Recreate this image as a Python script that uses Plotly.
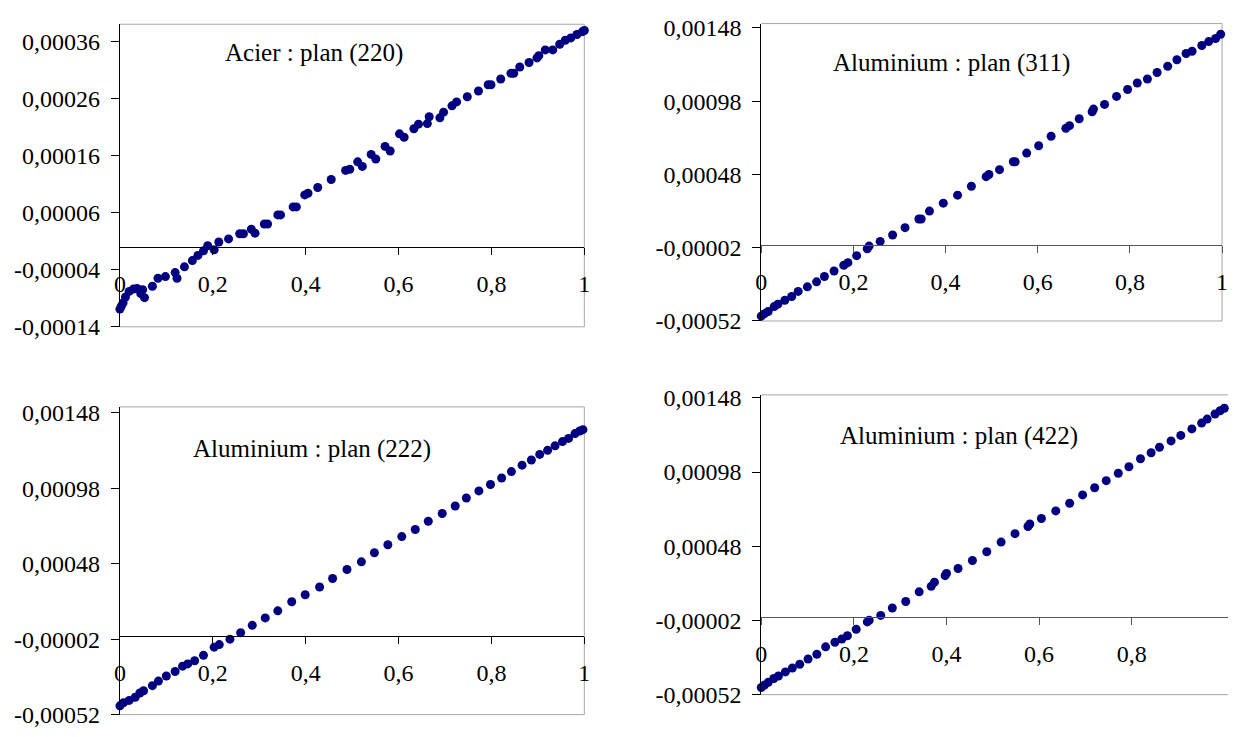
import plotly.graph_objects as go

# ---------------- data ----------------
acier_220_x = [0.0, 0.003, 0.007, 0.012, 0.020, 0.029, 0.037, 0.045, 0.049, 0.053, 0.070, 0.082,
               0.098, 0.119, 0.123, 0.139, 0.156, 0.168, 0.180, 0.189, 0.203, 0.213, 0.234, 0.258,
               0.266, 0.283, 0.291, 0.311, 0.318, 0.340, 0.346, 0.373, 0.380, 0.398, 0.405, 0.426,
               0.455, 0.486, 0.495, 0.512, 0.522, 0.541, 0.551, 0.571, 0.582, 0.602, 0.612, 0.633,
               0.643, 0.662, 0.666, 0.689, 0.697, 0.715, 0.725, 0.748, 0.772, 0.793, 0.799, 0.820,
               0.842, 0.848, 0.861, 0.881, 0.898, 0.902, 0.916, 0.932, 0.947, 0.959, 0.971, 0.984,
               0.996, 1.0]
acier_220_y = [-0.000109, -0.000104, -0.000098, -0.000088, -0.000078, -0.000074, -0.000073, -0.000082,
               -0.000075, -0.000089, -0.000069, -0.000055, -0.000052, -0.000045, -0.000055, -0.000035,
               -0.000024, -0.000015, -0.000007, 0.000002, -0.000005, 0.0000085, 0.000014, 0.000023,
               0.000023, 0.000031, 0.000024, 0.000040, 0.000040, 0.000056, 0.000056, 0.000070, 0.000070,
               0.000091, 0.000094, 0.000104, 0.000118, 0.000134, 0.000136, 0.000149, 0.000141, 0.000162,
               0.000154, 0.000176, 0.000168, 0.000198, 0.000192, 0.000207, 0.000215, 0.000216, 0.000228,
               0.000226, 0.000236, 0.000247, 0.000254, 0.000263, 0.000273, 0.000284, 0.000284, 0.000294,
               0.000304, 0.000304, 0.000315, 0.000323, 0.000331, 0.000335, 0.000345, 0.000345, 0.000355,
               0.000362, 0.000366, 0.000372, 0.000377, 0.000379]

alu_311_x = [0.0, 0.007, 0.015, 0.028, 0.036, 0.051, 0.066, 0.080, 0.100, 0.120, 0.137, 0.158,
             0.179, 0.188, 0.207, 0.230, 0.234, 0.258, 0.285, 0.312, 0.342, 0.347, 0.365, 0.395,
             0.426, 0.456, 0.488, 0.494, 0.517, 0.547, 0.551, 0.576, 0.602, 0.629, 0.661, 0.669,
             0.690, 0.718, 0.721, 0.745, 0.771, 0.795, 0.816, 0.838, 0.859, 0.882, 0.902, 0.922,
             0.935, 0.956, 0.971, 0.986, 0.997]
alu_311_y = [-0.000487, -0.000470, -0.000455, -0.000422, -0.000405, -0.000379, -0.000353, -0.000318,
             -0.000287, -0.000253, -0.000216, -0.000179, -0.000140, -0.000122, -0.000074, -0.000027,
             -0.000009, 0.000023, 0.000067, 0.000117, 0.000176, 0.000176, 0.000230, 0.000284,
             0.000339, 0.000400, 0.000465, 0.000480, 0.000513, 0.000567, 0.000567, 0.000626,
             0.000676, 0.000741, 0.000795, 0.000813, 0.000860, 0.000908, 0.000926, 0.000958,
             0.001013, 0.001060, 0.001104, 0.001132, 0.001176, 0.001219, 0.001263, 0.001306,
             0.001321, 0.001360, 0.001387, 0.001408, 0.001437]

alu_222_x = [0.0, 0.008, 0.020, 0.033, 0.043, 0.051, 0.070, 0.083, 0.100, 0.119, 0.135, 0.146,
             0.161, 0.180, 0.203, 0.214, 0.237, 0.260, 0.285, 0.313, 0.340, 0.370, 0.399, 0.430,
             0.458, 0.489, 0.520, 0.548, 0.577, 0.607, 0.636, 0.664, 0.694, 0.722, 0.746, 0.773,
             0.798, 0.822, 0.843, 0.866, 0.886, 0.904, 0.921, 0.937, 0.953, 0.966, 0.980, 0.990,
             0.997]
alu_222_y = [-0.000462, -0.000441, -0.000426, -0.000405, -0.000377, -0.000362, -0.000328, -0.000298,
             -0.000264, -0.000234, -0.000199, -0.000184, -0.000163, -0.000127, -0.000073, -0.000056,
             -0.000020, 0.000023, 0.000072, 0.000121, 0.000168, 0.000228, 0.000275, 0.000326,
             0.000382, 0.000442, 0.000493, 0.000553, 0.000606, 0.000660, 0.000707, 0.000762,
             0.000813, 0.000863, 0.000916, 0.000963, 0.001006, 0.001049, 0.001091, 0.001134,
             0.001168, 0.001205, 0.001232, 0.001262, 0.001290, 0.001311, 0.001343, 0.001360,
             0.001369]

alu_422_x = [0.0, 0.007, 0.015, 0.027, 0.037, 0.052, 0.067, 0.083, 0.101, 0.120, 0.139, 0.159,
             0.174, 0.186, 0.205, 0.229, 0.233, 0.258, 0.283, 0.312, 0.341, 0.367, 0.374, 0.397,
             0.400, 0.425, 0.456, 0.487, 0.518, 0.548, 0.576, 0.580, 0.605, 0.636, 0.666, 0.694,
             0.720, 0.745, 0.771, 0.794, 0.819, 0.842, 0.860, 0.885, 0.906, 0.930, 0.951, 0.963,
             0.980, 0.991, 1.0]
alu_422_y = [-0.000472, -0.000455, -0.000437, -0.000411, -0.000394, -0.000367, -0.000341, -0.000315,
             -0.000280, -0.000248, -0.000198, -0.000167, -0.000145, -0.000123, -0.000080, -0.000030,
             -0.000019, 0.000014, 0.000064, 0.000108, 0.000173, 0.000210, 0.000238, 0.000282,
             0.000297, 0.000330, 0.000384, 0.000443, 0.000508, 0.000565, 0.000613, 0.000630,
             0.000667, 0.000718, 0.000770, 0.000826, 0.000874, 0.000922, 0.000972, 0.001016,
             0.001070, 0.001110, 0.001147, 0.001190, 0.001227, 0.001271, 0.001310, 0.001337,
             0.001371, 0.001393, 0.001410]

titles = ["Acier : plan (220)", "Aluminium : plan (311)", "Aluminium : plan (222)", "Aluminium : plan (422)"]

x_ticks = [0, 0.2, 0.4, 0.6, 0.8, 1]
x_ticks_422 = [0, 0.2, 0.4, 0.6, 0.8]
y_ticks_220 = [-0.00014, -0.00004, 0.00006, 0.00016, 0.00026, 0.00036]
y_ticks_al = [-0.00052, -0.00002, 0.00048, 0.00098, 0.00148]


def fr(v):
    return f"{v:.5f}".replace(".", ",")


def frx(v):
    return ("%g" % v).replace(".", ",")


# ---------------- layout geometry (pixels) ----------------
W, H = 1234, 737
panels = [
    dict(l=115, r=584, t=14.7, b=327, yr=[-0.00014, 0.00039], xr=[0, 1], yt=y_ticks_220, xt=x_ticks,
         title=(311, 44), xs=acier_220_x, ys=acier_220_y, zc="black"),
    dict(l=762.7, r=1228, t=14, b=321, yr=[-0.00052, 0.00151], xr=[0, 1], yt=y_ticks_al, xt=x_ticks,
         title=(955, 55), xs=alu_311_x, ys=alu_311_y, zc="#555555"),
    dict(l=115, r=584, t=409.7, b=727.3, yr=[-0.00052, 0.00152], xr=[0, 1], yt=y_ticks_al, xt=x_ticks,
         title=(309, 453), xs=alu_222_x, ys=alu_222_y, zc="black"),
    dict(l=762.7, r=1234, t=397.3, b=706.7, yr=[-0.00052, 0.0015], xr=[0, 1.008], yt=y_ticks_al,
         xt=x_ticks_422, title=(962, 440), xs=alu_422_x, ys=alu_422_y, zc="#555555"),
]

FONT = "Liberation Serif, Times New Roman, serif"
FS = 24
FS_TITLE = 25

fig = go.Figure()
layout = dict(width=W, height=H, margin=dict(l=0, r=0, t=0, b=0), paper_bgcolor="white",
              plot_bgcolor="white", showlegend=False, font=dict(family=FONT, size=FS, color="black"))
shapes = []
annotations = []

for i, p in enumerate(panels):
    k = "" if i == 0 else str(i + 1)
    xd = [p["l"] / W, p["r"] / W]
    yd = [1 - p["b"] / H, 1 - p["t"] / H]
    y0, y1 = p["yr"]
    zero_pos = yd[0] + (0 - y0) / (y1 - y0) * (yd[1] - yd[0])

    fig.add_trace(go.Scatter(x=p["xs"], y=p["ys"], mode="markers", xaxis="x" + k, yaxis="y" + k,
                             marker=dict(color="#000080", size=9, line=dict(width=0)),
                             cliponaxis=False, hoverinfo="skip"))

    layout["xaxis" + k] = dict(domain=xd, anchor="free", position=zero_pos, range=p["xr"],
                               showgrid=False, zeroline=False, showline=True, linecolor=p["zc"],
                               linewidth=1, ticks="outside", ticklen=7, tickcolor=p["zc"],
                               tickvals=p["xt"], ticktext=[frx(v) for v in p["xt"]],
                               ticklabelstandoff=8, tickfont=dict(family=FONT, size=FS))
    layout["yaxis" + k] = dict(domain=yd, anchor="x" + k, range=p["yr"], showgrid=False,
                               zeroline=False, showline=True, linecolor="black", linewidth=1,
                               ticks="outside", ticklen=8, tickcolor="black",
                               ticklabelstandoff=6,
                               tickvals=p["yt"], ticktext=[fr(v) for v in p["yt"]],
                               tickfont=dict(family=FONT, size=FS))

    xr_ = "x" + k + " domain"
    yr_ = "y" + k + " domain"
    border = dict(color="#a6a6a6", width=1)
    shapes.append(dict(type="line", xref=xr_, yref=yr_, x0=0, x1=1, y0=1, y1=1, line=border, layer="below"))
    shapes.append(dict(type="line", xref=xr_, yref=yr_, x0=0, x1=1, y0=0, y1=0, line=border, layer="below"))
    if i != 3:
        shapes.append(dict(type="line", xref=xr_, yref=yr_, x0=1, x1=1, y0=0, y1=1, line=border, layer="below"))

    tx, ty = p["title"]
    annotations.append(dict(text=titles[i], x=tx / W, y=1 - ty / H, xref="paper", yref="paper",
                            showarrow=False, xanchor="center", yanchor="middle",
                            font=dict(family=FONT, size=FS_TITLE, color="black")))

layout["shapes"] = shapes
layout["annotations"] = annotations
fig.update_layout(**layout)
fig.write_html("out.html", config={"displayModeBar": False},
               post_script="document.body.style.margin='0';document.body.style.overflow='hidden';")
